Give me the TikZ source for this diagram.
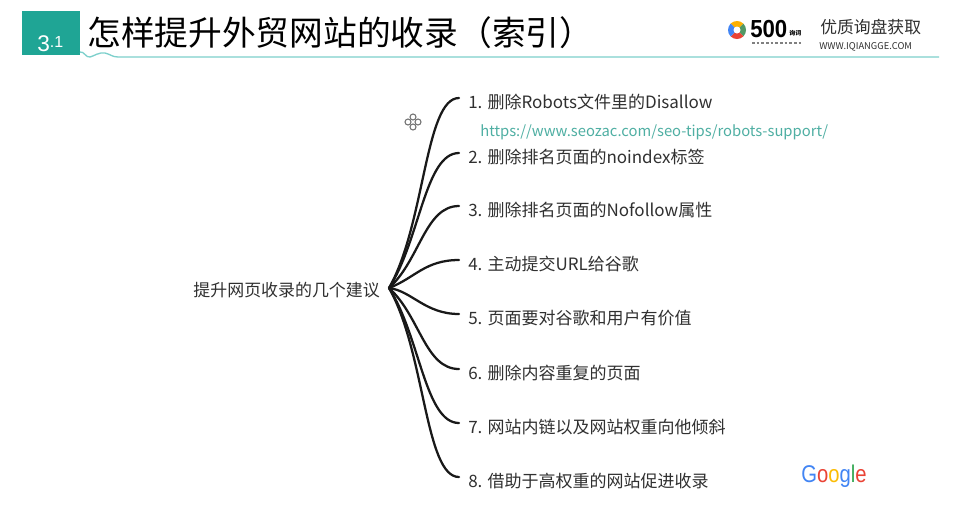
\documentclass[tikz,border=0pt]{standalone}
\usepackage{fontspec}
\setmainfont{Noto Sans CJK SC}
\newfontfamily\logofont{Liberation Sans}
\definecolor{tealbox}{HTML}{1FA595}
\definecolor{tealline}{HTML}{7DD0CC}
\definecolor{urlcol}{HTML}{4FAFA3}
\definecolor{itemcol}{HTML}{303030}
\definecolor{gblue}{HTML}{4285F4}
\definecolor{gred}{HTML}{EA4335}
\definecolor{gyellow}{HTML}{FBBC05}
\definecolor{ggreen}{HTML}{34A853}
\tikzset{
	itemnode/.style={anchor=west,inner xsep=6.75pt,inner ysep=0pt,text=itemcol,font=\fontsize{12.75}{14}\selectfont},
	branch/.style={line width=1.7pt,black!90,line cap=round},
}
\begin{document}
\begin{tikzpicture}[x=0.75pt,y=-0.75pt]
	\useasboundingbox[fill=white] (0,0) rectangle (962,512);
	% 标题栏
	\fill[tealbox] (22,11) rectangle (80,55);
	\node[anchor=base west,inner sep=0pt,text=white,font=\logofont] (secnum) at (37,51) {\fontsize{17}{18}\selectfont 3\raisebox{2.5pt}{\fontsize{12}{12}\selectfont .1}};
	\draw[tealline,line width=1pt] (80,52) .. controls (84,51) and (86,58) .. (90,57) .. controls (94,56) and (99,52) .. (105,53) .. controls (110,54) and (112,57) .. (118,57) -- (939,57);
	\node[anchor=west,inner sep=0pt,font=\fontsize{25.3}{28}\selectfont] (title) at (87,33) {怎样提升外贸网站的收录（索引）};
	% 标志
	\fill[gyellow!80!orange] (737,30) -- ++(225:9) arc (225:315:9) -- cycle;
	\fill[ggreen!60!gray] (737,30) -- ++(315:9) arc (315:405:9) -- cycle;
	\fill[gred] (737,30) -- ++(45:9) arc (45:135:9) -- cycle;
	\fill[gblue] (737,30) -- ++(135:9) arc (135:225:9) -- cycle;
	\fill[white] (737,30) circle (3.5);
	\node[anchor=west,inner sep=0pt,xscale=0.9,font=\fontsize{18.5}{20}\selectfont\bfseries\logofont] (logo) at (750,29) {500};
	\node[anchor=west,inner sep=0pt,font=\fontsize{4.5}{5}\selectfont\bfseries] (logoa) at (789,33) {询词};
	\draw[gray,line width=1pt,dash pattern=on 2pt off 1.5pt] (752,43) -- (803,43);
	\node[anchor=west,inner sep=0pt,text=itemcol,font=\fontsize{12.6}{14}\selectfont] (slogan) at (820,27) {优质询盘获取};
	\node[anchor=west,inner sep=0pt,text=itemcol,font=\fontsize{7}{8}\selectfont] (site) at (819,47) {WWW.IQIANGGE.COM};
	% 导图
	\node[anchor=east,inner sep=0pt,text=itemcol,font=\fontsize{12.7}{14}\selectfont] (root) at (380,290) {提升网页收录的几个建议};
	\coordinate (hub) at (389,288);
	\node[itemnode] (item1) at (459,102) {1. 删除Robots文件里的Disallow};
	\node[itemnode] (item2) at (459,157) {2. 删除排名页面的noindex标签};
	\node[itemnode] (item3) at (459,210) {3. 删除排名页面的Nofollow属性};
	\node[itemnode] (item4) at (459,264) {4. 主动提交URL给谷歌};
	\node[itemnode] (item5) at (459,318) {5. 页面要对谷歌和用户有价值};
	\node[itemnode] (item6) at (459,373) {6. 删除内容重复的页面};
	\node[itemnode] (item7) at (459,427) {7. 网站内链以及网站权重向他倾斜};
	\node[itemnode] (item8) at (459,481) {8. 借助于高权重的网站促进收录};
	\foreach \i/\cx/\cy in {1/36/-63,2/31/-48,3/31/-28,4/26/-10,5/23/3,6/31/28,7/31/48,8/36/63}
		\draw[branch] (hub) .. controls +(\cx,\cy) and ([xshift=-25.5pt,yshift=3pt]item\i.west) .. ([yshift=3pt]item\i.west);
	\node[anchor=west,inner sep=0pt,text=urlcol,font=\fontsize{11.1}{13}\selectfont] (url) at (480,132) {https://www.seozac.com/seo-tips/robots-support/};
	% 图标
	\begin{scope}[shift={(413,122)},black!55,line width=0.8pt]
		\foreach \a in {0,90,180,270}
			\draw[rotate=\a] (0,-5) circle (3);
	\end{scope}
	% 谷歌
	\node[anchor=west,inner sep=0pt,xscale=0.92,yscale=1.1,font=\fontsize{16.5}{20}\selectfont\logofont] (google) at (801,476) {\textcolor{gblue}{G}\textcolor{gred}{o}\textcolor{gyellow}{o}\textcolor{gblue}{g}\textcolor{ggreen}{l}\textcolor{gred}{e}};
\end{tikzpicture}
\end{document}
